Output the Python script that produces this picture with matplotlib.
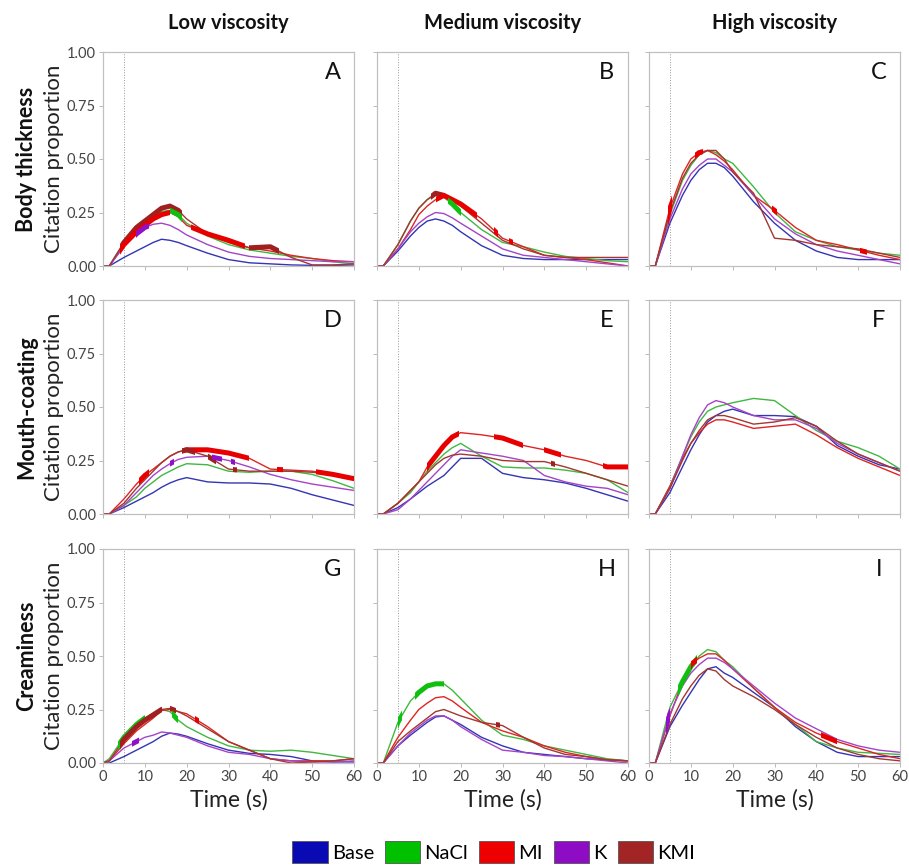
import numpy as np
import matplotlib
matplotlib.use("Agg")
import matplotlib.pyplot as plt
from matplotlib.patches import Patch, Rectangle

plt.rcParams["font.family"] = ["Lato", "DejaVu Sans"]

# time grid (s) shared by every curve
TIME = [0, 1.5, 5, 8, 10, 12, 14, 16, 18, 20, 25, 30, 35, 40, 45, 50, 55, 60]

SAMPLES = ["Base", "NaCl", "MI", "K", "KMI"]
COLS = ["Low viscosity", "Medium viscosity", "High viscosity"]
ROWS = ["Body thickness", "Mouth-coating", "Creaminess"]
LETTERS = ["A", "B", "C", "D", "E", "F", "G", "H", "I"]

# citation proportions, one dict per panel (A..I)
A = {
    "Base": [0, 0, 0.04, 0.07, 0.09, 0.11, 0.125, 0.12, 0.11, 0.095, 0.06, 0.03, 0.015, 0.01, 0.005, 0.003, 0.003, 0.005],
    "NaCl": [0, 0, 0.11, 0.17, 0.2, 0.23, 0.255, 0.26, 0.24, 0.2, 0.14, 0.1, 0.075, 0.06, 0.045, 0.035, 0.02, 0.01],
    "MI":   [0, 0, 0.1, 0.16, 0.19, 0.22, 0.24, 0.25, 0.23, 0.19, 0.15, 0.12, 0.085, 0.07, 0.05, 0.035, 0.025, 0.02],
    "K":    [0, 0, 0.09, 0.15, 0.18, 0.195, 0.2, 0.19, 0.17, 0.145, 0.1, 0.065, 0.045, 0.035, 0.03, 0.025, 0.02, 0.02],
    "KMI":  [0, 0, 0.11, 0.18, 0.21, 0.24, 0.27, 0.28, 0.26, 0.22, 0.15, 0.11, 0.085, 0.09, 0.04, 0.005, 0.005, 0.01],
}
B = {
    "Base": [0, 0, 0.07, 0.14, 0.18, 0.21, 0.22, 0.21, 0.19, 0.16, 0.095, 0.05, 0.035, 0.03, 0.03, 0.03, 0.03, 0.03],
    "NaCl": [0, 0, 0.1, 0.21, 0.27, 0.31, 0.33, 0.32, 0.29, 0.25, 0.17, 0.11, 0.09, 0.065, 0.045, 0.035, 0.025, 0.02],
    "MI":   [0, 0, 0.08, 0.17, 0.24, 0.28, 0.31, 0.33, 0.31, 0.29, 0.22, 0.13, 0.09, 0.05, 0.04, 0.03, 0.015, 0.0],
    "K":    [0, 0, 0.08, 0.16, 0.2, 0.23, 0.25, 0.245, 0.225, 0.2, 0.14, 0.08, 0.05, 0.04, 0.03, 0.02, 0.01, 0.0],
    "KMI":  [0, 0, 0.1, 0.21, 0.27, 0.31, 0.34, 0.33, 0.31, 0.28, 0.2, 0.12, 0.08, 0.05, 0.04, 0.04, 0.04, 0.04],
}
C = {
    "Base": [0, 0, 0.2, 0.33, 0.4, 0.45, 0.48, 0.48, 0.46, 0.42, 0.3, 0.2, 0.12, 0.07, 0.04, 0.03, 0.03, 0.03],
    "NaCl": [0, 0, 0.24, 0.4, 0.47, 0.52, 0.54, 0.53, 0.5, 0.48, 0.37, 0.25, 0.16, 0.12, 0.09, 0.075, 0.06, 0.05],
    "MI":   [0, 0, 0.27, 0.43, 0.5, 0.53, 0.54, 0.52, 0.49, 0.45, 0.33, 0.26, 0.18, 0.12, 0.1, 0.075, 0.05, 0.03],
    "K":    [0, 0, 0.22, 0.36, 0.43, 0.47, 0.5, 0.5, 0.47, 0.44, 0.33, 0.22, 0.15, 0.1, 0.07, 0.05, 0.03, 0.01],
    "KMI":  [0, 0, 0.25, 0.41, 0.48, 0.52, 0.54, 0.54, 0.5, 0.44, 0.34, 0.13, 0.12, 0.1, 0.09, 0.08, 0.06, 0.04],
}
D = {
    "Base": [0, 0, 0.03, 0.06, 0.08, 0.1, 0.125, 0.145, 0.16, 0.17, 0.15, 0.145, 0.145, 0.14, 0.12, 0.09, 0.065, 0.04],
    "NaCl": [0, 0, 0.04, 0.08, 0.12, 0.15, 0.18, 0.2, 0.22, 0.235, 0.23, 0.2, 0.195, 0.2, 0.2, 0.185, 0.155, 0.12],
    "MI":   [0, 0, 0.07, 0.14, 0.18, 0.21, 0.24, 0.27, 0.29, 0.3, 0.3, 0.285, 0.26, 0.21, 0.205, 0.2, 0.185, 0.165],
    "K":    [0, 0, 0.04, 0.1, 0.14, 0.18, 0.21, 0.235, 0.255, 0.265, 0.27, 0.25, 0.22, 0.185, 0.16, 0.14, 0.125, 0.11],
    "KMI":  [0, 0, 0.05, 0.12, 0.16, 0.2, 0.24, 0.27, 0.29, 0.3, 0.27, 0.21, 0.2, 0.2, 0.2, 0.195, 0.185, 0.165],
}
E = {
    "Base": [0, 0, 0.03, 0.07, 0.1, 0.13, 0.155, 0.18, 0.22, 0.26, 0.26, 0.19, 0.17, 0.16, 0.145, 0.12, 0.09, 0.06],
    "NaCl": [0, 0, 0.05, 0.1, 0.15, 0.2, 0.24, 0.28, 0.31, 0.33, 0.27, 0.22, 0.215, 0.215, 0.205, 0.19, 0.16, 0.1],
    "MI":   [0, 0, 0.05, 0.11, 0.15, 0.22, 0.27, 0.32, 0.36, 0.38, 0.37, 0.355, 0.32, 0.3, 0.27, 0.25, 0.22, 0.22],
    "K":    [0, 0, 0.02, 0.07, 0.11, 0.15, 0.19, 0.23, 0.27, 0.3, 0.285, 0.27, 0.25, 0.18, 0.15, 0.13, 0.12, 0.09],
    "KMI":  [0, 0, 0.05, 0.11, 0.15, 0.19, 0.23, 0.26, 0.275, 0.28, 0.27, 0.25, 0.245, 0.245, 0.22, 0.19, 0.16, 0.13],
}
F = {
    "Base": [0, 0, 0.1, 0.22, 0.3, 0.37, 0.43, 0.46, 0.48, 0.49, 0.46, 0.46, 0.455, 0.41, 0.32, 0.27, 0.23, 0.21],
    "NaCl": [0, 0, 0.13, 0.27, 0.36, 0.43, 0.48, 0.5, 0.51, 0.52, 0.54, 0.53, 0.46, 0.39, 0.34, 0.31, 0.27, 0.21],
    "MI":   [0, 0, 0.13, 0.26, 0.33, 0.38, 0.42, 0.44, 0.44, 0.43, 0.4, 0.41, 0.42, 0.37, 0.31, 0.26, 0.22, 0.18],
    "K":    [0, 0, 0.12, 0.27, 0.37, 0.45, 0.51, 0.53, 0.52, 0.5, 0.46, 0.44, 0.44, 0.4, 0.33, 0.28, 0.24, 0.2],
    "KMI":  [0, 0, 0.12, 0.25, 0.33, 0.39, 0.44, 0.46, 0.46, 0.45, 0.42, 0.43, 0.45, 0.41, 0.34, 0.28, 0.24, 0.2],
}
G = {
    "Base": [0, 0, 0.03, 0.06, 0.08, 0.1, 0.125, 0.14, 0.135, 0.125, 0.09, 0.06, 0.045, 0.04, 0.03, 0.01, 0.005, 0.005],
    "NaCl": [0, 0.02, 0.12, 0.18, 0.21, 0.23, 0.25, 0.24, 0.2, 0.17, 0.12, 0.08, 0.06, 0.055, 0.06, 0.05, 0.035, 0.02],
    "MI":   [0, 0.01, 0.09, 0.15, 0.18, 0.21, 0.245, 0.25, 0.24, 0.23, 0.17, 0.1, 0.06, 0.02, 0.01, 0.01, 0.01, 0.02],
    "K":    [0, 0.01, 0.07, 0.1, 0.12, 0.13, 0.145, 0.14, 0.13, 0.12, 0.08, 0.05, 0.04, 0.02, 0.01, 0.005, 0.005, 0.01],
    "KMI":  [0, 0.01, 0.11, 0.17, 0.2, 0.225, 0.25, 0.255, 0.24, 0.22, 0.16, 0.1, 0.06, 0.02, 0.0, 0.005, 0.01, 0.02],
}
H = {
    "Base": [0, 0, 0.08, 0.13, 0.16, 0.19, 0.215, 0.22, 0.2, 0.18, 0.12, 0.08, 0.05, 0.04, 0.03, 0.02, 0.015, 0.01],
    "NaCl": [0, 0, 0.19, 0.29, 0.33, 0.36, 0.37, 0.37, 0.34, 0.3, 0.2, 0.13, 0.11, 0.08, 0.06, 0.04, 0.02, 0.01],
    "MI":   [0, 0, 0.12, 0.2, 0.25, 0.28, 0.305, 0.31, 0.29, 0.26, 0.19, 0.15, 0.12, 0.08, 0.05, 0.03, 0.015, 0.01],
    "K":    [0, 0, 0.08, 0.14, 0.17, 0.2, 0.22, 0.22, 0.2, 0.17, 0.11, 0.06, 0.05, 0.035, 0.03, 0.02, 0.01, 0.0],
    "KMI":  [0, 0, 0.1, 0.15, 0.18, 0.21, 0.24, 0.25, 0.235, 0.22, 0.19, 0.175, 0.12, 0.07, 0.04, 0.03, 0.015, 0.01],
}
I = {
    "Base": [0, 0, 0.17, 0.27, 0.33, 0.39, 0.44, 0.45, 0.42, 0.4, 0.33, 0.26, 0.17, 0.1, 0.05, 0.03, 0.03, 0.03],
    "NaCl": [0, 0, 0.26, 0.38, 0.45, 0.5, 0.53, 0.52, 0.48, 0.45, 0.35, 0.26, 0.18, 0.1, 0.07, 0.05, 0.045, 0.04],
    "MI":   [0, 0, 0.22, 0.38, 0.46, 0.49, 0.51, 0.51, 0.48, 0.44, 0.35, 0.26, 0.19, 0.14, 0.1, 0.07, 0.04, 0.02],
    "K":    [0, 0, 0.23, 0.36, 0.42, 0.46, 0.49, 0.49, 0.47, 0.44, 0.36, 0.28, 0.21, 0.16, 0.11, 0.08, 0.06, 0.05],
    "KMI":  [0, 0, 0.18, 0.3, 0.36, 0.41, 0.44, 0.43, 0.39, 0.36, 0.31, 0.25, 0.18, 0.12, 0.07, 0.04, 0.02, 0.01],
}
PANELS = [A, B, C, D, E, F, G, H, I]

# significant time ranges (drawn thick): (sample, t_start, t_end)
SIG = [
    [("KMI", 4, 19), ("MI", 4, 16), ("MI", 21, 34), ("NaCl", 16, 19), ("K", 8, 11), ("KMI", 35, 42)],
    [("KMI", 13, 16), ("MI", 14, 24), ("NaCl", 17, 20), ("MI", 28, 29), ("MI", 31.5, 32.5)],
    [("MI", 4.5, 5.5), ("MI", 11, 13), ("MI", 29.5, 30.5), ("MI", 50.5, 52)],
    [("MI", 8.5, 11), ("MI", 19, 35), ("MI", 41.5, 43), ("MI", 51, 60), ("KMI", 19, 22),
     ("KMI", 25, 27), ("KMI", 31, 32), ("K", 16, 17), ("K", 26, 28.5), ("K", 30.5, 31.5)],
    [("MI", 12, 19.5), ("MI", 28, 35), ("MI", 40, 44), ("MI", 54, 60), ("KMI", 41.5, 42.5)],
    [],
    [("NaCl", 3.5, 10), ("KMI", 4, 14), ("KMI", 16, 17.5), ("MI", 22, 23), ("K", 7, 8.5), ("NaCl", 16.5, 18)],
    [("NaCl", 5, 6), ("NaCl", 9, 16), ("KMI", 28.5, 29.5)],
    [("NaCl", 7, 11.5), ("MI", 10, 11.5), ("K", 4, 5), ("MI", 41, 45)],
]

LINE_COL = {"Base": "#3434B4", "NaCl": "#40B840", "MI": "#E02424", "K": "#A444C8", "KMI": "#A3372F"}
SIG_COL = {"Base": "#1010C0", "NaCl": "#10C010", "MI": "#E80000", "K": "#9010C8", "KMI": "#A02020"}
LEG_COL = {"Base": "#0A0AB4", "NaCl": "#00C000", "MI": "#EE0000", "K": "#8E0CC4", "KMI": "#A22424"}

fig = plt.figure(figsize=(9.09, 8.66), dpi=100)
W, Hpx = 909, 866
lefts = [103, 377, 649]
tops = [52, 300, 549]
aw, ah = 251, 214

for idx, data in enumerate(PANELS):
    r, c = divmod(idx, 3)
    ax = fig.add_axes([lefts[c] / W, 1 - (tops[r] + ah) / Hpx, aw / W, ah / Hpx])
    for s in SAMPLES:
        ax.plot(TIME, data[s], color=LINE_COL[s], lw=1.0, zorder=2)
    for s, t0, t1 in SIG[idx]:
        ln, = ax.plot(TIME, data[s], color=SIG_COL[s], lw=3.6, solid_capstyle="round", zorder=3)
        ln.set_clip_path(Rectangle((t0, -1), t1 - t0, 3, transform=ax.transData))
    ax.axvline(5, color="#9a9a9a", lw=0.7, ls=":", zorder=1)
    ax.set_xlim(0, 60)
    ax.set_ylim(0, 1)
    ax.set_xticks(range(0, 61, 10))
    ax.set_yticks([0, 0.25, 0.5, 0.75, 1.0])
    for sp in ax.spines.values():
        sp.set_color("#c0c0c0")
        sp.set_linewidth(0.9)
    ax.tick_params(direction="out", length=3, width=0.6, color="#b0b0b0",
                   labelsize=10.5, labelcolor="#444444", pad=2)
    if c == 0:
        ax.set_yticklabels(["0.00", "0.25", "0.50", "0.75", "1.00"])
    else:
        ax.set_yticklabels([])
    if r != 2:
        ax.set_xticklabels([])
    ax.text(0.915, 0.905, LETTERS[idx], transform=ax.transAxes, fontsize=17,
            ha="center", va="center", color="#111111")

for c, title in enumerate(COLS):
    fig.text((lefts[c] + aw / 2) / W, 1 - 23 / Hpx, title, ha="center", va="center",
             fontsize=14.5, fontweight="bold", color="#111111")
    fig.text((lefts[c] + aw / 2) / W, 1 - 800 / Hpx, "Time (s)", ha="center", va="center",
             fontsize=16.5, color="#222222")
for r, name in enumerate(ROWS):
    yc = 1 - (tops[r] + ah / 2) / Hpx
    fig.text(27 / W, yc, name, ha="center", va="center",
             rotation=90, fontsize=15.5, fontweight="bold", color="#111111")
    fig.text(54 / W, yc, "Citation proportion", ha="center", va="center",
             rotation=90, fontsize=16, color="#222222")

handles = [Patch(facecolor=LEG_COL[s], edgecolor="#555555", lw=0.6, label=s) for s in SAMPLES]
fig.legend(handles=handles, loc="lower center", bbox_to_anchor=(0.543, -0.018), ncol=5,
           frameon=False, fontsize=14.5, handlelength=1.75, handleheight=1.35,
           handletextpad=0.2, columnspacing=0.55)

fig.savefig("out.png", dpi=100)
